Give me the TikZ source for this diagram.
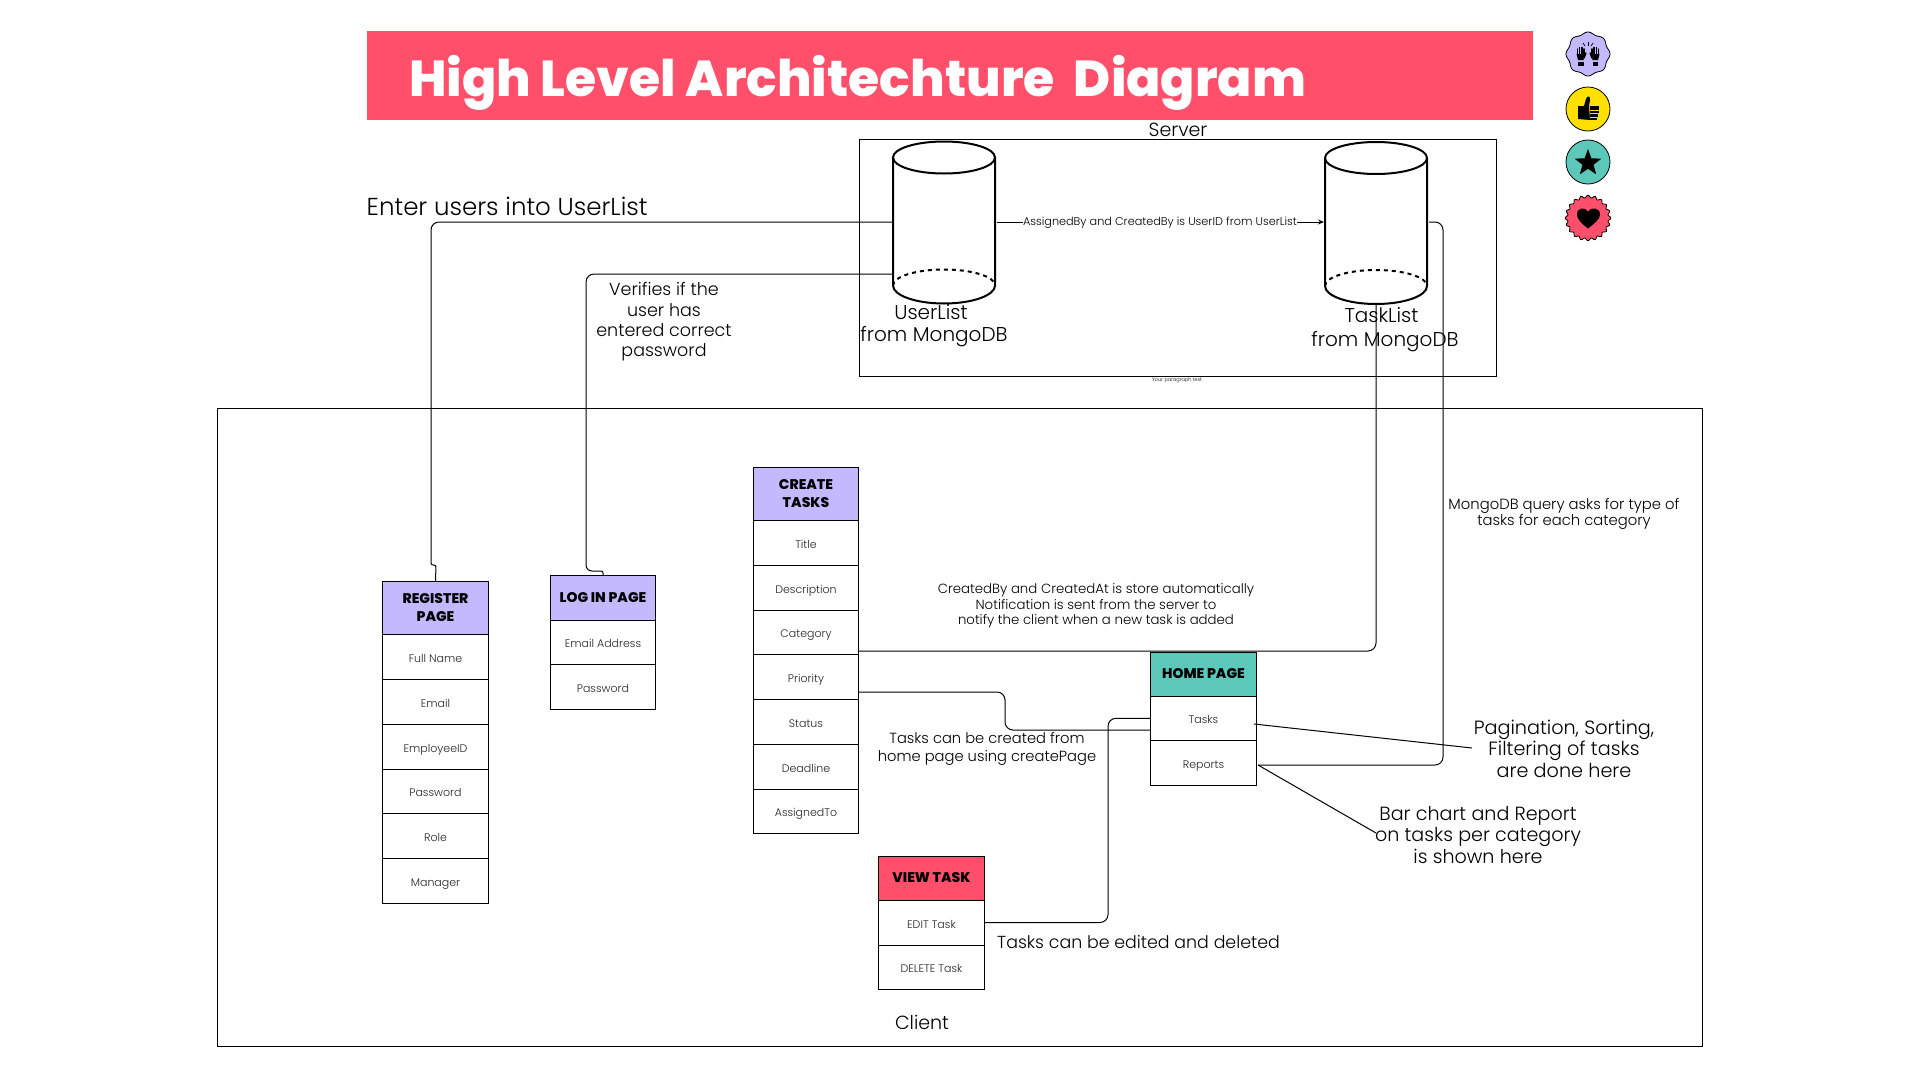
\documentclass[tikz,border=0pt]{standalone}
\usepackage{fontspec}
\setmainfont{Poppins}
\newfontfamily\lightf{Poppins Light}
\newfontfamily\headf{Poppins ExtraBold}
\usetikzlibrary{arrows.meta,shapes.geometric}
\definecolor{brandred}{HTML}{FF4F6A}
\definecolor{lav}{HTML}{C4B8FF}
\definecolor{teal2}{HTML}{5BC8BA}
\definecolor{yel}{HTML}{FFE000}
\tikzset{
 x=1pt,y=-1pt,
 cellbase/.style={draw=black,line width=1pt,inner sep=0pt,align=center,minimum width=105.5pt},
 cell/.style={cellbase,font=\lightf\fontsize{11}{13}\selectfont,text=black!85,text height=13pt,text depth=2pt},
 head/.style={cellbase,font=\headf\fontsize{14}{18}\selectfont,text=black},
 txt/.style 2 args={inner sep=0pt,align=center,text=black,font=\lightf\fontsize{#1}{#2}\selectfont},
 conn/.style={draw=black,line width=1pt,rounded corners=8pt},
 cyl/.style={draw=black,line width=2pt},
 box/.style={draw=black,line width=1pt},
}
\begin{document}
\begin{tikzpicture}
\useasboundingbox (0,0) rectangle (1920,1080);
\fill[white] (0,0) rectangle (1920,1080);
% banner
\node[fill=brandred,minimum width=1166pt,minimum height=89pt,inner sep=0pt] (banner) at (950,75.5) {};
\node[anchor=west,inner sep=0pt,text=white,font=\headf\fontsize{50.5}{56}\selectfont] (title) at (409,83) {High Level Architechture\ \ Diagram};
% frames
\node[box,minimum width=637pt,minimum height=236.5pt,inner sep=0pt] (server) at (1177.5,258) {};
\node[box,minimum width=1485pt,minimum height=638pt,inner sep=0pt] (client) at (959.5,727.5) {};
\node[txt={19}{22}] (serverlab) at (1178,130) {Server};
\node[txt={5}{6}] (para) at (1177,380) {Your paragraph text};
\node[txt={19}{22}] (clientlab) at (922,1022) {Client};
% cylinders
\foreach \n/\cx/\t in {ul/944/-0.5,tl/1376/-1}{
 \begin{scope}[yshift=\t pt]
 \draw[cyl,fill=white] (\cx-51,157) -- (\cx-51,285) arc[start angle=180,end angle=360,x radius=51,y radius=-18] -- (\cx+51,157);
 \draw[cyl] (\cx,157) ellipse[x radius=51,y radius=16];
 \draw[cyl,dashed,dash pattern=on 4pt off 4pt] (\cx-51,285) arc[start angle=180,end angle=0,x radius=51,y radius=-16];
 \end{scope}
 \node[minimum width=102pt,minimum height=164pt,inner sep=0pt] (\n) at (\cx,222+\t) {};
}
\coordinate (ulA) at (893,222);
\coordinate (ulB) at (893,274);
\coordinate (ulR) at (997,222);
\coordinate (tlL) at (1324,222);
\coordinate (tlR) at (1429,222);
\coordinate (tlB) at (1376,303);
% tables
\foreach \nm/\xc/\ya/\yb/\cl/\tx in {
 rh/435.5/581.5/634/lav/{REGISTER\\PAGE}, lh/603/575.5/620/lav/{LOG IN PAGE}, ch/806/467.5/520.5/lav/{CREATE\\TASKS},
 hh/1203.5/652/696/teal2/{HOME PAGE}, vh/931.5/856/900/brandred/{VIEW TASK}}{
 \node[head,fill=\cl,minimum height=\yb pt-\ya pt] (\nm) at (\xc,{(\ya+\yb)/2}) {\tx};
}
\foreach \nm/\xc/\ya/\yb/\tx in {
 r1/435.5/634/679/Full Name, r2/435.5/679/724/Email, r3/435.5/724/769/EmployeeID, r4/435.5/769/813.5/Password, r5/435.5/813.5/858.5/Role, r6/435.5/858.5/903/Manager,
 l1/603/620/664/Email Address, l2/603/664/709/Password,
 c1/806/520.5/565/Title, c2/806/565/610/Description, c3/806/610/654.5/Category, c4/806/654.5/699/Priority, c5/806/699/744/Status, c6/806/744/789/Deadline, c7/806/789/833/AssignedTo,
 h1/1203.5/696/740.5/Tasks, h2/1203.5/740.5/785/Reports,
 v1/931.5/900/945/EDIT Task, v2/931.5/945/989.5/DELETE Task}{
 \node[cell,minimum height=\yb pt-\ya pt] (\nm) at (\xc,{(\ya+\yb)/2}) {\tx};
}
% connector ends
\coordinate (hTop) at (859,651);
\coordinate (hA) at (1258,765);
\coordinate (hT) at (1254,724);
\coordinate (pagi) at (1472,748);
\coordinate (bar) at (1376,833);
% connectors
\draw[conn] (ulA) -- (431,222) [rounded corners=2pt] -- (431,565) -- (436,565) -- (rh.north);
\draw[conn] (ulB) -- (586,274) [rounded corners=6pt] -- (586,571) [rounded corners=2pt] -- (603,571) -- (lh.north);
\draw[conn] (tlB) -- (1376,651) -- (hTop);
\draw[conn] (tlR) -- (1443,222) -- (1443,765) -- (hA);
\draw[conn] (859,692) -- (1005,692) -- (1005,730) -- (1151,730);
\draw[conn] (h1.west) -- (1108,718.25) -- (1108,922.5) -- (v1.east);
\draw[line width=1pt] (hT) -- (pagi);
\draw[line width=1pt] (hA) -- (bar);
\draw[line width=1pt] (ulR) -- (1023,222);
\draw[line width=1pt,-{Stealth[length=6pt,width=5pt]}] (1297,222) -- (tlL);
% labels
\node[txt={11.25}{14}] (assign) at (1160,223) {AssignedBy and CreatedBy is UserID from UserList};
\node[txt={24.5}{28},anchor=west] (enter) at (366.5,206) {Enter users into UserList};
\node[txt={17.5}{20.3}] (verif) at (664,322) {Verifies if the\\user has\\entered correct\\password};
\node[txt={20}{22}] (ulab) at (934,326) {UserList\hspace*{6pt}\\from MongoDB};
\node[txt={20}{24}] (tlab) at (1385,329.5) {TaskList\hspace*{7pt}\\from MongoDB};
\node[txt={14.8}{16}] (mq) at (1564,514) {MongoDB query asks for type of\\tasks for each category};
\node[txt={13.3}{15.5}] (cb) at (1096,606) {CreatedBy and CreatedAt is store automatically\\Notification is sent from the server to\\notify the client when a new task is added};
\node[txt={14.7}{18}] (tc) at (987,749) {Tasks can be created from\\home page using createPage};
\node[txt={17.4}{20},anchor=west] (te) at (997,942) {Tasks can be edited and deleted};
\node[txt={19.2}{21.5}] (pg) at (1564,748.5) {Pagination, Sorting,\\Filtering of tasks\\are done here};
\node[txt={19.1}{21.5}] (br) at (1478,834.5) {Bar chart and Report\\on tasks per category\\is shown here};
% icons
\node[inner sep=0pt,minimum size=44pt] (i1) at (1588,54) {};
\node[inner sep=0pt,minimum size=44pt] (i2) at (1588,109) {};
\node[inner sep=0pt,minimum size=44pt] (i3) at (1588,162) {};
\node[inner sep=0pt,minimum size=44pt] (i4) at (1588,218) {};
\draw[fill=lav,line width=.8pt,samples=240,domain=0:360,smooth] plot ({1588+(21+1.0*cos(8*\x))*cos(\x)},{54+(21+1.0*cos(8*\x))*sin(\x)}) -- cycle;
\draw[fill=yel,line width=.8pt] (i2.center) circle[radius=22];
\draw[fill=teal2,line width=.8pt] (i3.center) circle[radius=22];
\draw[fill=brandred,line width=.8pt,samples=360,domain=0:360,smooth] plot ({1588+(21.5+1.2*cos(20*\x))*cos(\x)},{218+(21.5+1.2*cos(20*\x))*sin(\x)}) -- cycle;
% hands
\foreach \s in {-1,1}{
 \fill[black] ({1588+\s*3.5},54) -- ({1588+\s*11.5},54) -- ({1588+\s*10},60) -- ({1588+\s*4.5},60) -- cycle;
 \fill[black] ({1588+\s*4.5},61.5) rectangle ({1588+\s*10},66);
 \draw[black,line width=1.5pt,line cap=round] ({1588+\s*4},55) -- ({1588+\s*4},49);
 \draw[black,line width=1.5pt,line cap=round] ({1588+\s*6.2},55) -- ({1588+\s*6.2},47.5);
 \draw[black,line width=1.5pt,line cap=round] ({1588+\s*8.4},55) -- ({1588+\s*8.4},47.5);
 \draw[black,line width=1.5pt,line cap=round] ({1588+\s*10.6},55) -- ({1588+\s*10.6},49);
 \draw[black,line width=1.5pt,line cap=round] ({1588+\s*4},58) -- ({1588+\s*2.2},53);
 \draw[black,line width=.7pt] ({1588+\s*3},46) -- ({1588+\s*5},43);
}
\draw[black,line width=.7pt] (1588,42) -- (1588,46);
% thumb
\fill[black] (1578,106) -- (1584,106) -- (1586,99) .. controls (1587,95) and (1591,96) .. (1590,100) -- (1589,106) -- (1590,120) -- (1578,119) -- cycle;
\fill[black] (1590,106) rectangle (1599,109.5);
\fill[black] (1590,110.5) rectangle (1599,113);
\fill[black] (1590,114) rectangle (1598,116.5);
\fill[black] (1590,117.5) rectangle (1597,120);
% star
\node[star,star points=5,star point ratio=2.4,fill=black,inner sep=0pt,minimum size=28pt] (stari) at (1588,163) {};
% heart
\fill[black] (1588,228.5) .. controls (1581,223) and (1577,219) .. (1577,214.5) .. controls (1577,207.5) and (1585,206.5) .. (1588,211.5) .. controls (1591,206.5) and (1600,207.5) .. (1600,214.5) .. controls (1600,219) and (1595,223) .. (1588,228.5) -- cycle;
\end{tikzpicture}
\end{document}
